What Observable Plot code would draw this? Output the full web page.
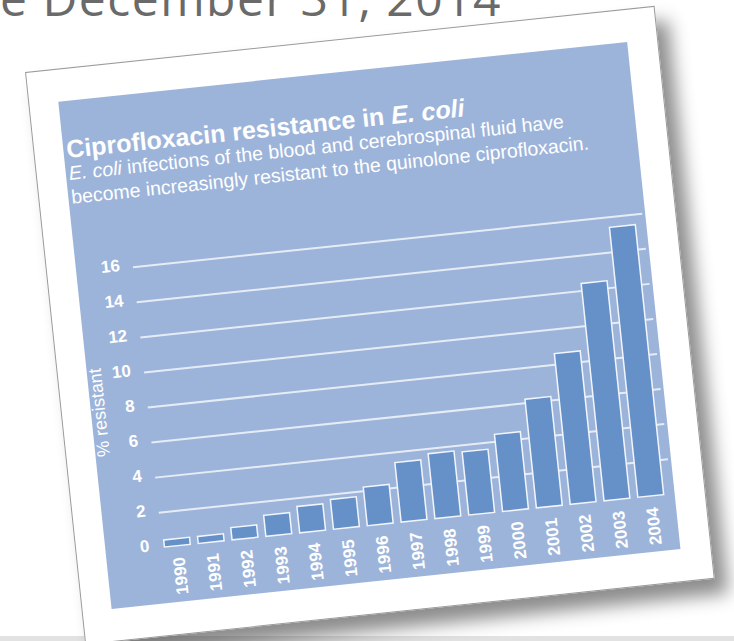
<!DOCTYPE html>
<html>
<head>
<meta charset="utf-8">
<script src="https://cdn.jsdelivr.net/npm/d3@7"></script>
<script src="https://cdn.jsdelivr.net/npm/@observablehq/plot@0.6"></script>
<style>
  html, body { margin: 0; padding: 0; background: #fff; width: 734px; height: 641px; overflow: hidden; position: relative; font-family: "Liberation Sans", Arial, sans-serif; }
  #slideText { position: absolute; left: 0px; top: -26px; font: 48px/48px "Open Sans", sans-serif; color: #6a6a6a; letter-spacing: 1.5px; white-space: nowrap; }
  #bottomLine { position: absolute; left: 0; top: 636px; width: 734px; height: 5px; background: #e2e2e2; }
  #card { position: absolute; left: 25px; top: 72px; width: 633px; height: 576px; background: #fff; transform-origin: 0 0; transform: rotate(-6deg); box-shadow: 12px 16px 18px rgba(0,0,0,0.45); border: 1px solid #9a9a9a; box-sizing: border-box; }
  #panel { position: absolute; left: 29px; top: 32px; width: 572px; height: 510px; background: #9db4da; color: #fff; }
  #title { position: absolute; left: 3px; top: 36px; font-weight: bold; font-size: 25px; line-height: 25px; white-space: nowrap; }
  #subtitle { position: absolute; left: 3px; top: 61px; font-size: 19.5px; line-height: 23.5px; white-space: nowrap; }
  #chart { position: absolute; left: 0; top: 120px; }
</style>
</head>
<body>
<div id="slideText">e December 31, 2014</div>
<div id="bottomLine"></div>
<div id="card">
  <div id="panel">
    <div id="title">Ciprofloxacin resistance in <i>E. coli</i></div>
    <div id="subtitle"><i>E. coli</i> infections of the blood and cerebrospinal fluid have<br>become increasingly resistant to the quinolone ciprofloxacin.</div>
    <div id="chart"></div>
  </div>
</div>
<script>
const years = ["1990","1991","1992","1993","1994","1995","1996","1997","1998","1999","2000","2001","2002","2003","2004"];
const resistant = [0.4, 0.4, 0.7, 1.2, 1.5, 1.7, 2.2, 3.4, 3.7, 3.6, 4.4, 6.2, 8.6, 12.4, 15.4];
const yTicks = [0, 2, 4, 6, 8, 10, 12, 14, 16];
const gridValues = [2, 4, 6, 8, 10, 12, 14, 16];
const axisTitle = ["% resistant"];

const data = years.map((year, i) => ({year, value: resistant[i]}));

const chart = Plot.plot({
  width: 572,
  height: 390,
  marginLeft: 50,
  marginRight: 2,
  marginTop: 52,
  marginBottom: 56,
  style: {background: "transparent", fontFamily: "'Liberation Sans', Arial, sans-serif", overflow: "visible"},
  x: {domain: years, paddingInner: 0.25, paddingOuter: 0.125, label: null},
  y: {domain: [0, 16], label: null},
  marks: [
    Plot.ruleY(gridValues, {stroke: "#ffffff", strokeOpacity: 0.75, strokeWidth: 2, insetLeft: 7, insetRight: 1}),
    Plot.barY(data, {x: "year", y: "value", fill: "#6690c8", stroke: "#f2f6fc", strokeWidth: 1.5}),
    Plot.axisY({ticks: yTicks, tickSize: 0, tickPadding: 6.5, dy: -3, color: "#fff", fontSize: 17, fontWeight: "bold", label: null}),
    Plot.axisX({tickRotate: -90, tickSize: 0, tickPadding: 11, color: "#fff", fontSize: 17, fontWeight: "bold", label: null}),
    Plot.text(axisTitle, {text: d => d, frameAnchor: "left", textAnchor: "middle", rotate: -90, dx: -42, fill: "#fff", fontSize: 18})
  ]
});
document.getElementById("chart").appendChild(chart);
</script>
</body>
</html>
